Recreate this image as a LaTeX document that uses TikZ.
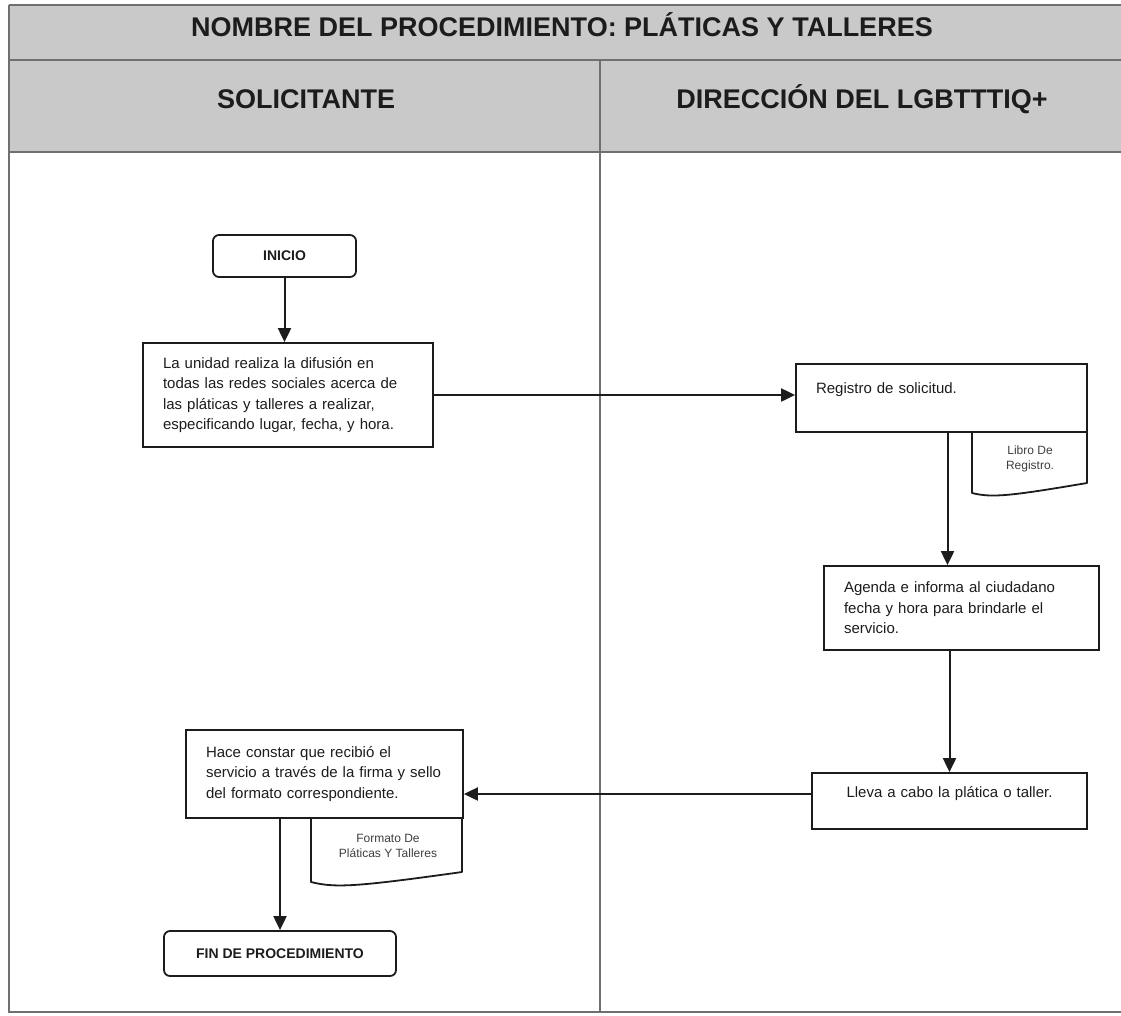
\documentclass[tikz,border=0pt]{standalone}
\usepackage{fontspec}
\setmainfont{Liberation Sans}
\usetikzlibrary{arrows.meta,calc}

\definecolor{bandgray}{RGB}{201,201,201}
\definecolor{rulegray}{RGB}{112,112,112}
\definecolor{ink}{RGB}{28,28,28}

\begin{document}
\begin{tikzpicture}[x=1pt,y=-1pt,
  every node/.style={font=\fontsize{15}{20.5}\selectfont, text=ink},
  procbox/.style={draw=ink, line width=1.8pt, rectangle, inner xsep=20pt, inner ysep=0pt, align=left},
  termbox/.style={draw=ink, line width=1.8pt, rounded corners=6pt, inner sep=0pt,
                  font=\fontsize{14}{16}\selectfont\bfseries},
  flow/.style={draw=ink, line width=2pt, -{Triangle[length=14pt,width=13pt]}},
  lane/.style={draw=rulegray, line width=1.2pt},
  docshape/.style={draw=ink, line width=1.8pt, line join=round},
  doclabel/.style={font=\fontsize{12}{15.5}\selectfont, align=center, text=ink!85},
  headtxt/.style={font=\fontsize{27}{30}\selectfont\bfseries, anchor=base}
]
\useasboundingbox (0,0) rectangle (1121,1015);

% header bands
\fill[bandgray] (9,5) rectangle (1121,152);
\draw[lane] (9,5) -- (1121,5);
\draw[lane] (9,60) -- (1121,60);
\draw[lane] (9,152) -- (1121,152);
\draw[lane] (9,5) -- (9,1012) -- (1121,1012);
\draw[lane] (600,60) -- (600,1012);

\node[headtxt] (titulo) at (562,36) {NOMBRE DEL PROCEDIMIENTO: PLÁTICAS Y TALLERES};
\node[headtxt] (solicitante) at (306,108) {SOLICITANTE};
\node[headtxt] (direccion) at (862,108) {DIRECCIÓN DEL LGBTTTIQ+};

% solicitante lane
\node[termbox, minimum width=143pt, minimum height=42pt] (inicio) at (284.5,256) {INICIO};

\node[procbox, text width=250pt, minimum height=104pt] (difusion) at (288,395)
  {La unidad realiza la difusión en\\
   todas las redes sociales acerca de\\
   las pláticas y talleres a realizar,\\
   especificando lugar, fecha, y hora.};

\node[procbox, text width=237pt, minimum height=88pt] (constancia) at (324.5,774)
  {Hace constar que recibió el\\
   servicio a través de la firma y sello\\
   del formato correspondiente.};

\node[termbox, minimum width=232pt, minimum height=45pt] (fin) at (280,953.5) {FIN DE PROCEDIMIENTO};

% direccion lane
\node[procbox, text width=251pt, minimum height=68pt] (registro) at (941.5,398)
  {Registro de solicitud.\\ \mbox{}};

\node[procbox, text width=235pt, minimum height=84pt] (agenda) at (961.5,608)
  {Agenda e informa al ciudadano\\
   fecha y hora para brindarle el\\
   servicio.};

\node[procbox, align=center, text width=235pt, minimum height=56pt, text depth=18pt] (lleva) at (949.5,801)
  {Lleva a cabo la plática o taller.};

% documents
\draw[docshape] (972,432) -- (972,493) .. controls (992,498) and (1010,496) .. (1087,483) -- (1087,432);
\node[doclabel] (libro) at (1030,459) {Libro De\\Registro.};

\draw[docshape] (311,818) -- (311,882) .. controls (335,888) and (355,887) .. (462,872) -- (462,818);
\node[doclabel] (formato) at (388,846) {Formato De\\Pláticas Y Talleres};

% connectors
\coordinate (regbase) at ($(registro.south)+(6,0)$);
\draw[flow] (inicio.south) -- (inicio.south |- difusion.north);
\draw[flow] (difusion.east) -- (difusion.east -| registro.west);
\draw[flow] (regbase) -- (regbase |- agenda.north);
\draw[flow] (lleva.north |- agenda.south) -- (lleva.north);
\draw[flow] ([yshift=7pt]lleva.west) -- ([yshift=7pt]lleva.west -| constancia.east);
\draw[flow] (fin.north |- constancia.south) -- (fin.north);
\end{tikzpicture}
\end{document}
